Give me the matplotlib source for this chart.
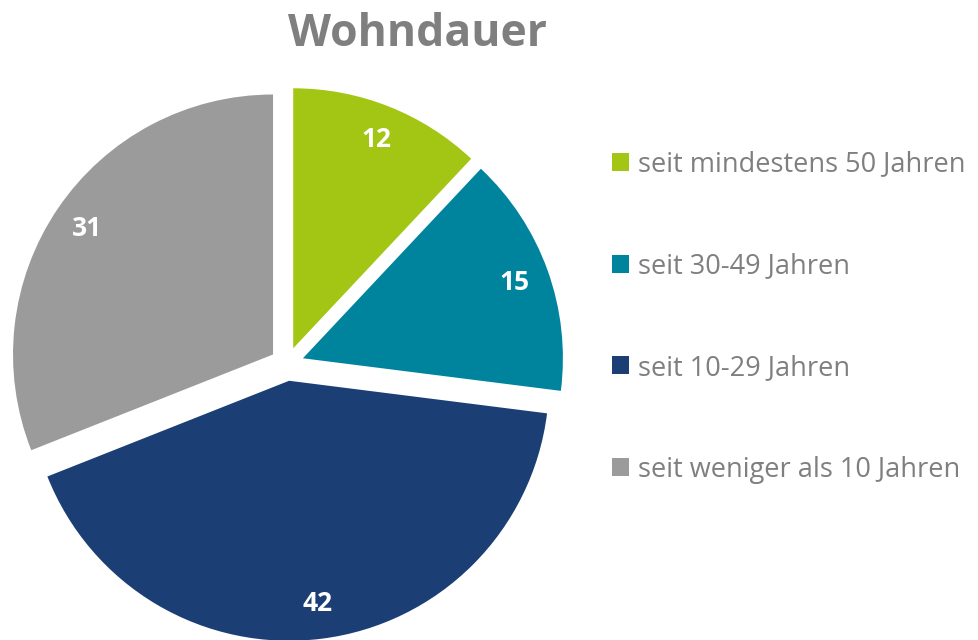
import matplotlib
matplotlib.use("Agg")
import matplotlib.pyplot as plt

# Daten
labels = ["seit mindestens 50 Jahren", "seit 30-49 Jahren",
          "seit 10-29 Jahren", "seit weniger als 10 Jahren"]
values = [12, 15, 42, 31]
colors = ["#A3C614", "#00849D", "#1B3F75", "#9B9B9B"]

plt.rcParams["font.family"] = ["Open Sans", "DejaVu Sans"]

W, H = 979, 640
fig = plt.figure(figsize=(W / 100, H / 100), dpi=100)

# Kreis: Mitte bei ca. (287, 364) px, Radius ca. 260 px
R = 260
cx, cy = 287, 364
lim = 1.1
size = 2 * lim * R
ax = fig.add_axes([(cx - size / 2) / W, (H - cy - size / 2) / H, size / W, size / H])

wedges, texts, autotexts = ax.pie(
    values, colors=colors, startangle=90, counterclock=False,
    explode=[0.065] * 4, pctdistance=0.865,
    autopct=lambda p: "%d" % round(p * sum(values) / 100),
    wedgeprops=dict(linewidth=0),
    textprops=dict(color="white", fontsize=19, fontweight="bold"))
ax.set_xlim(-lim, lim)
ax.set_ylim(-lim, lim)
ax.set_aspect("equal")
ax.axis("off")

fig.text(418 / W, 1 - 34 / H, "Wohndauer", ha="center", va="center",
         fontsize=32, fontweight="bold", color="#7F7F7F")

fig.legend(wedges, labels, loc="center left", bbox_to_anchor=(612 / W, 1 - 317 / H),
           frameon=False, fontsize=19.5, labelcolor="#7F7F7F",
           handlelength=0.63, handleheight=0.63, handletextpad=0.33,
           labelspacing=2.72, borderpad=0, borderaxespad=0)

fig.savefig("out.png", dpi=100)
